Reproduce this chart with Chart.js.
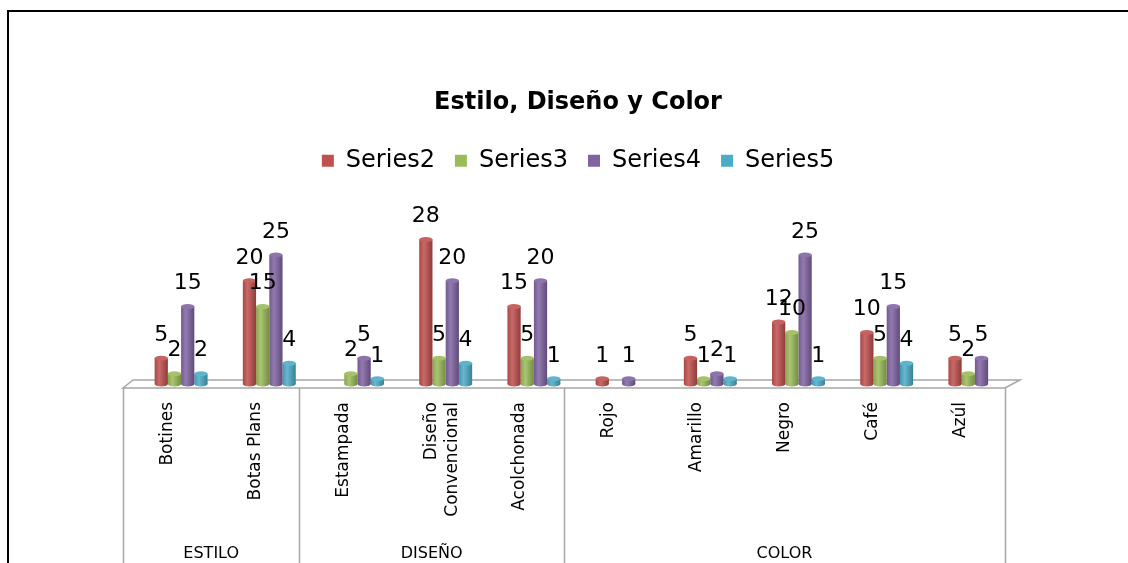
<!DOCTYPE html>
<html>
<head>
<meta charset="utf-8">
<script src="https://cdn.jsdelivr.net/npm/chart.js@4/dist/chart.umd.min.js"></script>
<style>
    html, body { margin: 0; padding: 0; background: #fff; }
    #wrap { position: relative; width: 1128px; height: 563px; overflow: hidden; }
    #frame { position: absolute; left: 7px; top: 10px; width: 1200px; height: 700px;
             border-top: 2px solid #000; border-left: 2px solid #000; }
    canvas { position: absolute; left: 0; top: 0; }
</style>
</head>
<body>
<div id="wrap">
    <div id="frame"></div>
    <canvas id="chart" width="1128" height="563"></canvas>
</div>
<script>
// ---------------- Datos ----------------
const categories = ['Botines', 'Botas Plans', 'Estampada', ['Diseño', 'Convencional'], 'Acolchonada',
                    'Rojo', 'Amarillo', 'Negro', 'Café', 'Azúl'];
const groups = ['ESTILO', 'DISEÑO', 'COLOR'];
const groupSizes = [2, 3, 5];

const series2 = [5, 20, null, 28, 15, 1, 5, 12, 10, 5];
const series3 = [2, 15, 2, 5, 5, null, 1, 10, 5, 2];
const series4 = [15, 25, 5, 20, 20, 1, 2, 25, 15, 5];
const series5 = [2, 4, 1, 4, 1, null, 1, 1, 4, null];

const FONT = '"DejaVu Sans", sans-serif';
const SHIFT = 14; // desplazamiento 3D de las etiquetas respecto a las barras

// centros y bordes de cada grupo (en unidades de categoría)
const groupEdges = [0];
groupSizes.forEach(n => groupEdges.push(groupEdges.at(-1) + n));
const groupCenters = groupSizes.map((n, i) => groupEdges[i] + n / 2);

// ---------------- Colores ----------------
function mix(hex, target, t) {
    const a = parseInt(hex.slice(1), 16), b = parseInt(target.slice(1), 16);
    const ch = (v, s) => (v >> s) & 255;
    const r = Math.round(ch(a, 16) + (ch(b, 16) - ch(a, 16)) * t);
    const g = Math.round(ch(a, 8) + (ch(b, 8) - ch(a, 8)) * t);
    const bl = Math.round(ch(a, 0) + (ch(b, 0) - ch(a, 0)) * t);
    return `rgb(${r},${g},${bl})`;
}

// ---------------- Plugins ----------------
const tableLines = {
    id: 'tableLines',
    beforeDatasetsDraw(chart) {
        const { ctx, chartArea, scales } = chart;
        const xg = scales.xg;
        const base = chartArea.bottom;
        const backY = base - 4, frontY = base + 4;
        const l = xg.getPixelForValue(0), r = xg.getPixelForValue(10);

        ctx.save();
        ctx.strokeStyle = '#a6a6a6';
        ctx.lineWidth = 1.5;
        ctx.beginPath();
        ctx.moveTo(l - SHIFT, frontY);
        ctx.lineTo(l - 4, backY);
        ctx.lineTo(r + 1, backY);
        ctx.lineTo(r - SHIFT, frontY);
        ctx.closePath();
        ctx.stroke();

        groupEdges.forEach(v => {
            const x = Math.round(xg.getPixelForValue(v) - SHIFT) + 0.5;
            ctx.beginPath();
            ctx.moveTo(x, frontY);
            ctx.lineTo(x, chart.height);
            ctx.stroke();
        });
        ctx.restore();

        // cilindros: gradiente horizontal por barra
        chart.data.datasets.forEach((ds, i) => {
            chart.getDatasetMeta(i).data.forEach(bar => {
                const w = bar.width;
                const grad = ctx.createLinearGradient(bar.x - w / 2, 0, bar.x + w / 2, 0);
                grad.addColorStop(0, mix(ds.baseColor, '#000000', 0.12));
                grad.addColorStop(0.35, mix(ds.baseColor, '#ffffff', 0.15));
                grad.addColorStop(1, mix(ds.baseColor, '#000000', 0.25));
                bar.options = Object.assign({}, bar.options, { backgroundColor: grad });
            });
        });
    }
};

const barCaps = {
    id: 'barCaps',
    afterDatasetsDraw(chart) {
        const ctx = chart.ctx;
        ctx.save();
        chart.data.datasets.forEach((ds, i) => {
            chart.getDatasetMeta(i).data.forEach((bar, j) => {
                if (ds.data[j] == null) return;
                const rx = bar.width / 2;
                ctx.fillStyle = bar.options.backgroundColor;
                ctx.beginPath();
                ctx.ellipse(bar.x, bar.base, rx, 2.5, 0, 0, Math.PI * 2);
                ctx.fill();
                ctx.fillStyle = mix(ds.baseColor, '#ffffff', 0.1);
                ctx.beginPath();
                ctx.ellipse(bar.x, bar.y, rx, 2.5, 0, 0, Math.PI * 2);
                ctx.fill();
            });
        });

        ctx.font = '22px ' + FONT;
        ctx.fillStyle = '#000';
        ctx.textAlign = 'center';
        ctx.textBaseline = 'middle';
        chart.data.datasets.forEach((ds, i) => {
            chart.getDatasetMeta(i).data.forEach((bar, j) => {
                const v = ds.data[j];
                if (v == null) return;
                ctx.fillText(String(v), bar.x, bar.y - 23);
            });
        });
        ctx.restore();
    }
};

// ---------------- Gráfica ----------------
function makeSeries(label, data, color) {
    return { label, data, baseColor: color, backgroundColor: color, borderWidth: 0,
             categoryPercentage: 0.6, barPercentage: 1.0 };
}

new Chart(document.getElementById('chart'), {
    type: 'bar',
    data: {
        labels: categories,
        datasets: [
            makeSeries('Series2', series2, '#C0504D'),
            makeSeries('Series3', series3, '#9BBB59'),
            makeSeries('Series4', series4, '#8064A2'),
            makeSeries('Series5', series5, '#4BACC6')
        ]
    },
    options: {
        responsive: false,
        animation: false,
        layout: { padding: { top: 88, left: 137, right: 109, bottom: 0 } },
        plugins: {
            title: {
                display: true,
                text: 'Estilo, Diseño y Color',
                color: '#000',
                font: { family: FONT, size: 24, weight: 'bold' },
                padding: { top: 0, bottom: 12 }
            },
            legend: {
                position: 'top',
                labels: { boxWidth: 12, boxHeight: 12, padding: 20, color: '#000',
                          font: { family: FONT, size: 24 } }
            },
            tooltip: { enabled: false }
        },
        scales: {
            y: { display: false, min: 0, max: 39 },
            x: {
                grid: { display: false, drawTicks: false },
                border: { display: false },
                ticks: { minRotation: 90, maxRotation: 90, autoSkip: false, color: '#000',
                         font: { family: FONT, size: 17 }, padding: 18, labelOffset: -SHIFT },
                afterFit: axis => { axis.height = 149; }
            },
            xg: {
                type: 'linear', position: 'bottom', weight: 1, min: 0, max: 10, offset: false,
                grid: { display: false, drawTicks: false },
                border: { display: false },
                afterBuildTicks: axis => { axis.ticks = groupCenters.map(v => ({ value: v })); },
                ticks: { autoSkip: false, maxRotation: 0, color: '#000', padding: 11,
                         font: { family: FONT, size: 16 }, labelOffset: -SHIFT,
                         callback: v => groups[groupCenters.indexOf(v)] },
                afterFit: axis => { axis.height = 30; }
            }
        }
    },
    plugins: [tableLines, barCaps]
});
</script>
</body>
</html>
